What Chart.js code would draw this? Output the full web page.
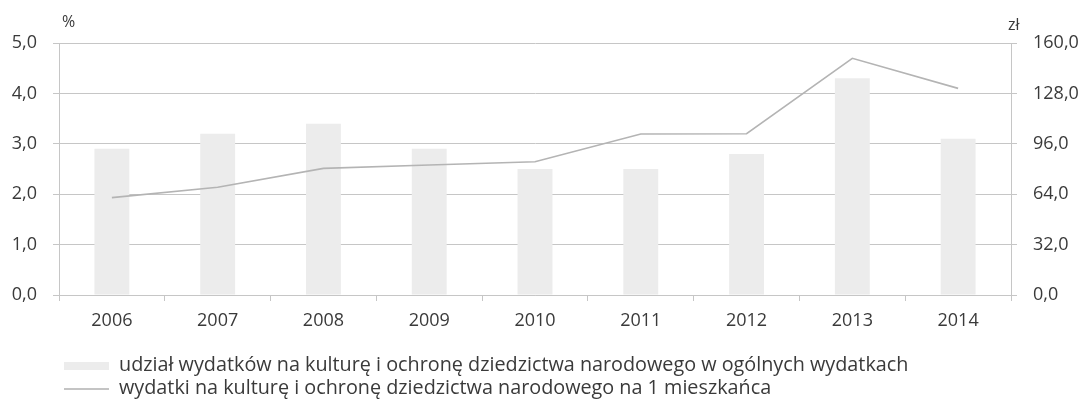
<!DOCTYPE html>
<html>
<head>
<meta charset="utf-8">
<script src="https://cdn.jsdelivr.net/npm/chart.js@4"></script>
<style>
  body { margin: 0; background: #fff; }
  #wrap { position: relative; width: 1086px; height: 402px; }
  .leg { position: absolute; left: 64px; font-family: 'Open Sans', sans-serif; font-size: 19.8px; line-height: 24px; color: #3a3a3a; white-space: nowrap; }
  .leg span.sym { display: inline-block; width: 45px; vertical-align: middle; margin-right: 10px; }
</style>
</head>
<body>
<div id="wrap">
  <canvas id="chart" width="1086" height="402"></canvas>
  <div class="leg" style="top:352px"><span class="sym" style="height:8px;background:#ececec"></span>udział wydatków na kulturę i ochronę dziedzictwa narodowego w ogólnych wydatkach</div>
  <div class="leg" style="top:375px"><span class="sym" style="height:2px;background:#c4c4c4"></span>wydatki na kulturę i ochronę dziedzictwa narodowego na 1 mieszkańca</div>
</div>
<script>
const years = ['2006', '2007', '2008', '2009', '2010', '2011', '2012', '2013', '2014'];
const sharePct = [2.9, 3.2, 3.4, 2.9, 2.5, 2.5, 2.8, 4.3, 3.1];
const perCapita = [61.8, 68.4, 80.4, 82.5, 84.6, 102.2, 102.4, 150.3, 131.2];
const leftTicks = [0, 1, 2, 3, 4, 5];
const rightTicks = [0, 32, 64, 96, 128, 160];

const gridColor = '#c6c6c6';
const textColor = '#3a3a3a';
const tickFont = { family: 'Open Sans', size: 18 };
const fmt = v => v.toFixed(1).replace('.', ',');

// the "%" and "zł" unit captions above the two value axes
const unitLabels = {
  id: 'unitLabels',
  afterDraw(chart) {
    const { ctx, chartArea } = chart;
    ctx.save();
    ctx.fillStyle = textColor;
    ctx.font = '16px "Open Sans", sans-serif';
    ctx.textBaseline = 'alphabetic';
    ctx.textAlign = 'left';
    ctx.fillText('%', chartArea.left + 3, 27);
    ctx.fillText('zł', chartArea.right - 3, 30);
    ctx.restore();
  }
};

new Chart(document.getElementById('chart'), {
  type: 'bar',
  data: {
    labels: years,
    datasets: [
      {
        type: 'line',
        label: 'wydatki na kulturę i ochronę dziedzictwa narodowego na 1 mieszkańca',
        data: perCapita,
        yAxisID: 'y2',
        borderColor: '#b4b4b4',
        borderWidth: 1.6,
        pointRadius: 0,
        tension: 0,
        order: 0
      },
      {
        label: 'udział wydatków na kulturę i ochronę dziedzictwa narodowego w ogólnych wydatkach',
        data: sharePct,
        yAxisID: 'y',
        backgroundColor: '#ececec',
        barPercentage: 0.33,
        categoryPercentage: 1,
        order: 1
      }
    ]
  },
  options: {
    responsive: false,
    animation: false,
    layout: { padding: { top: 43 } },
    plugins: { legend: { display: false }, tooltip: { enabled: false } },
    scales: {
      x: {
        offset: true,
        grid: { offset: true, drawOnChartArea: false, color: gridColor, tickLength: 6 },
        border: { color: gridColor },
        ticks: { color: textColor, font: tickFont, padding: 9 },
        afterFit: s => { s.height = 107; }
      },
      y: {
        position: 'left',
        min: 0, max: 5,
        afterBuildTicks: s => { s.ticks = leftTicks.map(v => ({ value: v })); },
        grid: { color: gridColor, tickLength: 6 },
        border: { color: gridColor },
        ticks: { color: textColor, font: tickFont, padding: 16, callback: v => fmt(v) },
        afterFit: s => { s.width = 59; }
      },
      y2: {
        position: 'right',
        min: 0, max: 160,
        afterBuildTicks: s => { s.ticks = rightTicks.map(v => ({ value: v })); },
        grid: { drawOnChartArea: false, color: gridColor, tickLength: 6 },
        border: { color: gridColor },
        ticks: { color: textColor, font: tickFont, padding: 16, callback: v => fmt(v) },
        afterFit: s => { s.width = 75; }
      }
    }
  },
  plugins: [unitLabels]
});
</script>
</body>
</html>
